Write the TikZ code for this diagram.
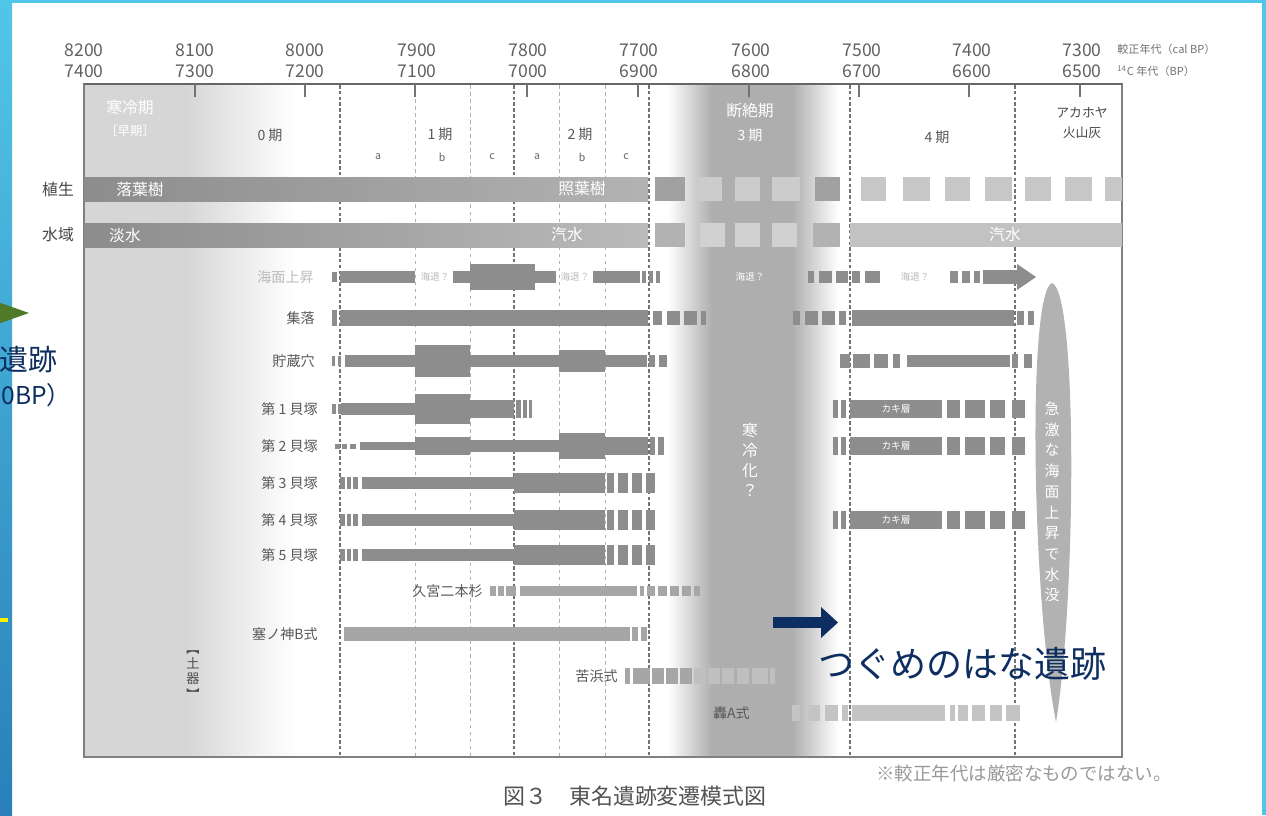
\documentclass[tikz,border=0pt]{standalone}
\usepackage{fontspec}
\setmainfont{Noto Sans CJK JP}
\definecolor{barc}{HTML}{8D8D8D}
\definecolor{lbar}{HTML}{A6A6A6}
\definecolor{fbar}{HTML}{C4C4C4}
\definecolor{bandg}{HTML}{AEAEAE}
\definecolor{leftg}{HTML}{D6D6D6}
\definecolor{txt}{HTML}{505050}
\definecolor{ltxt}{HTML}{BBBBBB}
\definecolor{navy}{HTML}{0D2E60}
\definecolor{slideA}{HTML}{52C6E8}
\definecolor{slideB}{HTML}{2A7FB8}
\definecolor{olive}{HTML}{4F7A28}
\newcommand\blocks[3][barc]{\foreach \xa/\xb in {#3}{\fill[#1] (\xa,\ry-#2) rectangle (\xb,\ry+#2);}}
\begin{document}
\begin{tikzpicture}[x=0.02cm,y=-0.02cm,
  tx/.style={inner sep=0pt,text=txt},
  axnum/.style={tx,font=\fontsize{10}{10}\selectfont,text=black!62},
  axcap/.style={tx,font=\fontsize{6.3}{6.3}\selectfont,text=black!55,anchor=west},
  rowlab/.style={tx,font=\fontsize{9}{9}\selectfont,text=black!72},
  itemlab/.style={tx,font=\fontsize{8}{8}\selectfont,anchor=east,text=black!65},
  sublab/.style={tx,font=\fontsize{6}{6}\selectfont,text=black!60},
  perlab/.style={tx,font=\fontsize{8}{8}\selectfont,text=black!65},
  wlab/.style={inner sep=0pt,text=white,font=\fontsize{9}{9}\selectfont},
  qlab/.style={inner sep=0pt,text=ltxt,font=\fontsize{5.5}{5.5}\selectfont},
  majdash/.style={draw=black!55,line width=0.6pt,dash pattern=on 2pt off 1.3pt},
  mindash/.style={draw=black!30,line width=0.45pt,dash pattern=on 2pt off 2pt}]
\useasboundingbox (0,0) rectangle (1266,815);
\clip (0,0) rectangle (1266,815);
\fill[white] (0,0) rectangle (1266,815);
% background shadings
\fill[leftg] (84,84) rectangle (185,757);
\shade[left color=leftg,right color=white] (185,84) rectangle (295,757);
\shade[left color=white,right color=bandg] (668,84) rectangle (712,757);
\fill[bandg] (712,84) rectangle (792,757);
\shade[left color=bandg,right color=white] (792,84) rectangle (838,757);
% dashed period lines
\foreach \x in {415,470,559,605} \draw[mindash] (\x,85) -- (\x,757);
\foreach \x in {340,514,649,850,1015} \draw[majdash] (\x,85) -- (\x,757);
% frame
\draw[black!50,line width=0.8pt] (84,84) rectangle (1122,757);
\draw[black!60,line width=1.1pt] (84,84) -- (1122,84);
% ticks and axis labels
\foreach \x in {195,305,415,527,638,749,859,969,1080} \draw[black!55,line width=0.8pt] (\x,84) -- (\x,97);
\foreach \x/\a/\b [count=\i] in {84/8200/7400,195/8100/7300,305/8000/7200,417/7900/7100,528/7800/7000,639/7700/6900,751/7600/6800,862/7500/6700,972/7400/6600,1082/7300/6500}{
  \node[axnum] (ca\i) at (\x,50) {\a};
  \node[axnum] (cb\i) at (\x,71) {\b};}
\node[axcap] (calbp) at (1117,49) {較正年代（cal BP）};
\node[axcap] (cbp) at (1117,71) {\textsuperscript{14}C 年代（BP）};
% vegetation
\shade[left color=black!45,right color=black!30] (84,177) rectangle (648,201);
\def\ry{189}
\blocks[black!37]{12}{655/685,815/840}
\blocks[black!20]{12}{697/722,735/760,772/800}
\blocks[black!22]{12}{861/886,903/930,945/970,985/1012,1025/1051,1065/1092,1105/1122}
\node[rowlab] (shoku) at (58,189) {植生};
\node[wlab] (rakuyo) at (140,189) {落葉樹};
\node[wlab] (shoyo) at (582,189) {照葉樹};
% water
\shade[left color=black!45,right color=black!27] (84,223) rectangle (648,247);
\def\ry{235}
\blocks[black!30]{12}{655/685,813/840}
\blocks[black!18]{12}{700/725,735/760,772/797}
\fill[black!24] (850,223) rectangle (1122,247);
\node[rowlab] (suiiki) at (58,235) {水域};
\node[wlab] (tansui) at (125,235) {淡水};
\node[wlab] (kisui1) at (567,235) {汽水};
\node[wlab] (kisui2) at (1005,235) {汽水};
% sea level rise
\def\ry{277}
\blocks{5}{332/337}
\blocks{6}{340/415,453/470,535/556,593/640,642/646,649/653,656/660}
\blocks{13}{470/535}
\blocks{6}{808/814,819/832,836/848,852/860,865/880,950/958,962/970,974/980}
\fill[barc] (983,\ry-7) rectangle (1019,\ry+7);
\fill[barc] (1017,\ry-13) -- (1036,\ry) -- (1017,\ry+13) -- cycle;
\node[itemlab,text=ltxt] (kaimen) at (314,277) {海面上昇};
\node[qlab] (q1) at (435,277) {海退？};
\node[qlab] (q2) at (575,277) {海退？};
\node[qlab,text=white] (q3) at (750,277) {海退？};
\node[qlab] (q4) at (915,277) {海退？};
% settlement
\def\ry{318}
\blocks{8}{332/337,340/648,852/1014}
\blocks{7}{653/662,667/680,684/697,701/706,793/800,805/818,822/835,839/846,1017/1024,1028/1034}
\node[itemlab] (shuraku) at (315,318) {集落};
% storage pits
\def\ry{361}
\blocks{5}{332/335,338/341}
\blocks{6}{345/415,470/559,605/647,649/655,659/667,907/1010}
\blocks{16}{415/470}
\blocks{11}{559/605}
\blocks{7}{840/850,853/870,874/888,893/900,1012/1018,1024/1032}
\node[itemlab] (chozo) at (315,361) {貯蔵穴};
% shell middens
\newcommand\kaki[1]{\blocks{9}{833/838,841/846,850/942,947/960,965/985,990/1005,1012/1025}
  \node[inner sep=0pt,text=white,font=\fontsize{5.5}{5.5}\selectfont] (#1) at (896,\ry) {カキ層};}
\def\ry{409}
\blocks{5}{332/336,338/341}
\blocks{6}{341/415}
\blocks{15}{415/470}
\blocks{9}{470/514,516/521,523/527,529/532}
\kaki{kaki1}
\node[itemlab] (kai1) at (318,409) {第 1 貝塚};
\def\ry{446}
\blocks{2.5}{335/340,342/347,350/356}
\blocks{4}{360/415}
\blocks{9}{415/470,605/648,650/655,658/664}
\blocks{6}{470/559}
\blocks{13}{559/605}
\kaki{kaki2}
\node[itemlab] (kai2) at (318,446) {第 2 貝塚};
\foreach \yy/\nm/\lab in {483/kai3/{第 3 貝塚},520/kai4/{第 4 貝塚},555/kai5/{第 5 貝塚}}{
  \def\ry{\yy}
  \blocks{6}{340/345,347/351,353/358,362/514}
  \blocks{10}{514/605,607/614,618/628,632/642,646/655}
  \node[itemlab] (\nm) at (318,\yy) {\lab};}
\def\ry{520}
\kaki{kaki4}
% pottery
\def\ry{591}
\blocks[lbar]{5}{490/496,498/504,506/516,520/637,640/644,647/655,658/667,670/679,682/691,694/700}
\node[itemlab] (kumiya) at (483,591) {久宮二本杉};
\def\ry{634}
\blocks[lbar]{7}{344/630,632/638,641/647}
\node[itemlab] (sainokami) at (318,634) {塞ノ神B式};
\def\ry{676}
\blocks[lbar]{8}{625/630,633/650,652/664,666/678,680/692}
\blocks[black!25]{8}{694/706,708/720,722/734,737/749,752/768,770/775}
\node[itemlab] (kuhama) at (618,676) {苦浜式};
\def\ry{713}
\blocks[fbar]{8}{792/800,808/820,825/838,842/848,852/945,950/955,958/968,972/985,990/1002,1006/1020}
\node[itemlab] (todoroki) at (750,713) {轟A式};
\node[tx,align=center,font=\fontsize{7.5}{8.6}\selectfont,text=black!70] (doki) at (193,675) {︻\\土\\器\\︼};
% period labels
\node[wlab] (kanrei) at (130,108) {寒冷期};
\node[wlab,font=\fontsize{7}{7}\selectfont] (soki) at (130,131) {［早期］};
\node[perlab] (p0) at (270,135) {0 期};
\node[perlab] (p1) at (440,134) {1 期};
\node[perlab] (p2) at (580,134) {2 期};
\node[wlab] (danzetsu) at (750,111) {断絶期};
\node[wlab,font=\fontsize{8}{8}\selectfont] (p3) at (750,135) {3 期};
\node[perlab] (p4) at (937,137) {4 期};
\node[perlab,align=center,font=\fontsize{7.3}{11.5}\selectfont,text=black!72] (akahoya) at (1082,123) {アカホヤ\\火山灰};
\foreach \x/\l [count=\i] in {378/a,442/b,492/c,537/a,582/b,626/c}
  \node[sublab] (sub\i) at (\x,157) {\l};
% cooling text
\node[inner sep=0pt,text=white,align=center,font=\fontsize{9}{11.5}\selectfont] (kanreika) at (750,460) {寒\\冷\\化\\？};
% sinking ellipse
\fill[black!30] (1052,283) .. controls (1078,292) and (1076,600) .. (1056,722) .. controls (1032,600) and (1027,292) .. (1052,283);
\node[inner sep=0pt,text=white,align=center,font=\fontsize{8.5}{11.8}\selectfont] (suibotsu) at (1052,502) {急\\激\\な\\海\\面\\上\\昇\\で\\水\\没};
% caption and note
\node[tx,font=\fontsize{12.5}{12.5}\selectfont,text=black!68] (caption) at (635,796) {図３　東名遺跡変遷模式図};
\node[tx,font=\fontsize{10.5}{10.5}\selectfont,text=black!40] (note) at (1024,773) {※較正年代は厳密なものではない。};
% slide overlays
\fill[slideA] (0,0) rectangle (1266,2.5);
\shade[top color=slideA,bottom color=slideB] (0,0) rectangle (12,815);
\fill[slideA] (1261.5,0) rectangle (1266,815);
\fill[olive] (-5,301) -- (29,313) -- (-5,325) -- cycle;
\fill[yellow] (0,618) rectangle (8,621.5);
\node[inner sep=0pt,anchor=east,text=navy,font=\fontsize{16.5}{16.5}\selectfont] (leftsite) at (58,360) {遺跡};
\node[inner sep=0pt,anchor=west,text=navy,font=\fontsize{14}{14}\selectfont] (leftbp) at (1,395) {0BP）};
\coordinate (arS) at (773,622.5);
\fill[navy] (arS) ++(0,-5.5) rectangle (823,628);
\fill[navy] (821,607) -- (838,622.5) -- (821,638) -- cycle;
\node[inner sep=0pt,anchor=west,text=navy,font=\fontsize{20.5}{20.5}\selectfont] (tsugume) at (818,664) {つぐめのはな遺跡};
\end{tikzpicture}
\end{document}
